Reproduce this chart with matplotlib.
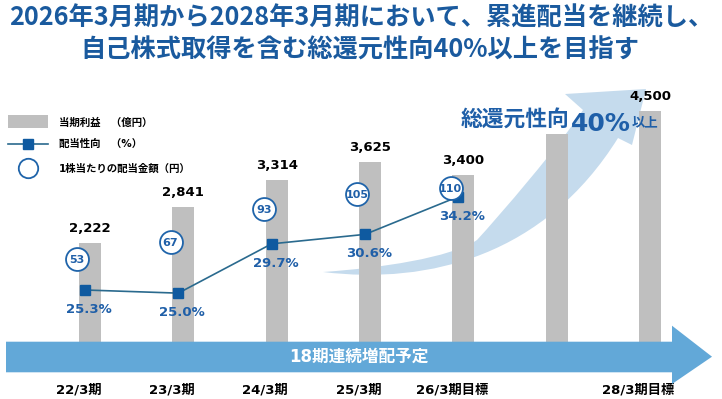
import matplotlib
matplotlib.use('Agg')
import matplotlib.pyplot as plt
from matplotlib.path import Path
from matplotlib.patches import PathPatch, Polygon, Rectangle
from matplotlib.lines import Line2D
import matplotlib.transforms as mtransforms

plt.rcParams['font.family'] = ['DejaVu Sans', 'Noto Sans CJK JP']

# ---------------- data ----------------
categories = ['22/3期', '23/3期', '24/3期', '25/3期', '26/3期目標', '', '28/3期目標']
profit = [2222, 2841, 3314, 3625, 3400, 4100, 4500]          # 当期利益（億円）; 27/3 estimated
profit_labels = ['2,222', '2,841', '3,314', '3,625', '3,400', '', '4,500']
payout = [25.3, 25.0, 29.7, 30.6, 34.2]                       # 配当性向（%）
payout_labels = ['25.3%', '25.0%', '29.7%', '30.6%', '34.2%']
dividend = [53, 67, 93, 105, 110]                             # 1株当たりの配当金額（円）

title_lines = ['2026年3月期から2028年3月期において、累進配当を継続し、',
               '自己株式取得を含む総還元性向40%以上を目指す']
legend_labels = ['当期利益　（億円）', '配当性向　（%）', '1株当たりの配当金額（円）']
arrow_text = '18期連続増配予定'
target_text = ['総還元性向', '40%', '以上']

# ---------------- style ----------------
BLUE_TITLE = '#1A5A9E'
BLUE_TXT = '#1F5FA8'
BLUE_MARK = '#0F5AA0'
LINE_C = '#2A6A8E'
CIRC_C = '#1F64AA'
BAR_C = '#BFBFBF'
ARROW_C = '#62A8D8'
BAND_C = '#C5DBED'

W, H = 722, 399
fig = plt.figure(figsize=(7.22, 3.99), dpi=100)


def overlay(z):
    a = fig.add_axes([0, 0, 1, 1], zorder=z)
    a.set_xlim(0, W)
    a.set_ylim(H, 0)
    a.axis('off')
    return a


# background: curved arrow
ax_bg = overlay(1)
verts = [(323, 272),
         (430, 285), (545, 255), (618, 138),
         (632, 145), (646, 89), (565, 94), (583, 110),
         (560, 145), (500, 215), (477, 240),
         (450, 258), (380, 268), (323, 272),
         (323, 272)]
codes = [Path.MOVETO,
         Path.CURVE4, Path.CURVE4, Path.CURVE4,
         Path.LINETO, Path.LINETO, Path.LINETO, Path.LINETO,
         Path.CURVE4, Path.CURVE4, Path.CURVE4,
         Path.CURVE4, Path.CURVE4, Path.CURVE4,
         Path.CLOSEPOLY]
ax_bg.add_patch(PathPatch(Path(verts, codes), facecolor=BAND_C, edgecolor='none'))

# bars
ax = fig.add_axes([0, 0, 1, 1], zorder=2)
ax.set_xlim(-0.964, 6.771)
ax.set_ylim(-462, 6417)
ax.axis('off')
x = list(range(len(profit)))
ax.bar(x, profit, width=0.2325, color=BAR_C, zorder=1)
for xi, v, lbl in zip(x, profit, profit_labels):
    if lbl:
        ax.annotate(lbl, (xi, v), xytext=(0, 8), textcoords='offset pixels',
                    ha='center', va='bottom', fontsize=9.5, fontweight='bold', color='black')
for xi, c in zip(x, categories):
    if c:
        ax.annotate(c, (xi, 1 - 390 / H), xycoords=('data', 'axes fraction'),
                    xytext=(-11.5, 0), textcoords='offset pixels',
                    ha='center', va='center', fontsize=9.5, fontweight='bold', color='black')

# foreground decorations
ax_fg = overlay(3)
ax_fg.add_patch(Polygon([(6, 341.7), (672, 341.7), (672, 325.7), (712, 356.7),
                         (672, 384), (672, 372.3), (6, 372.3)],
                        closed=True, facecolor=ARROW_C, edgecolor='none'))
ax_fg.text(359, 357, arrow_text, ha='center', va='center', fontsize=12,
           fontweight='bold', color='white')

ax_fg.text(361.5, 18, title_lines[0], ha='center', va='center', fontsize=18.2,
           fontweight='bold', color=BLUE_TITLE, family='Noto Sans CJK JP')
ax_fg.text(360, 50, title_lines[1], ha='center', va='center', fontsize=18.2,
           fontweight='bold', color=BLUE_TITLE, family='Noto Sans CJK JP')

# legend
ax_fg.add_patch(Rectangle((8, 115), 40, 13.3, facecolor=BAR_C, edgecolor='none'))
ax_fg.add_line(Line2D([8, 48], [144, 144], color=LINE_C, lw=1.2))
ax_fg.add_line(Line2D([28], [144], marker='s', ms=7, color=BLUE_MARK, mec=BLUE_MARK))
ax_fg.add_line(Line2D([28], [168.3], marker='o', ms=14, mfc='white', mec=CIRC_C, mew=1.3))
for yy, lbl in zip([123, 144, 168.3], legend_labels):
    ax_fg.text(59, yy, lbl, ha='left', va='center', fontsize=7.5, fontweight='bold',
               color='black')

# target text
t1 = ax_fg.text(461, 126, target_text[0], ha='left', va='baseline', fontsize=15.7,
                fontweight='bold', color=BLUE_TXT, family='Noto Sans CJK JP')
ax_fg.annotate(target_text[1], xy=(1, 0), xycoords=t1, xytext=(1, 0),
               textcoords='offset pixels', ha='left', va='baseline',
               fontsize=18, fontweight='bold', color=BLUE_TXT, family='DejaVu Sans')
ax_fg.text(632, 126, target_text[2], ha='left', va='baseline', fontsize=9.6,
           fontweight='bold', color=BLUE_TXT, family='Noto Sans CJK JP')

# payout line
ax_pay = ax.twinx()
ax_pay.set_zorder(4)
ax_pay.set_ylim(14.91, 52.94)
ax_pay.axis('off')
tr_line = mtransforms.offset_copy(ax_pay.transData, fig=fig, x=-5, y=0, units='dots')
xp = list(range(len(payout)))
ax_pay.plot(xp, payout, color=LINE_C, lw=1.2, marker='s', ms=7.5,
            mfc=BLUE_MARK, mec=BLUE_MARK, transform=tr_line)
for xi, p, lbl in zip(xp, payout, payout_labels):
    ax_pay.annotate(lbl, (xi, p), xytext=(-1, -19.5), textcoords='offset pixels',
                    ha='center', va='center', fontsize=9.5, fontweight='bold', color=BLUE_TXT)

# dividend circles
ax_div = ax.twinx()
ax_div.set_zorder(5)
ax_div.set_ylim(-59.9, 261.7)
ax_div.axis('off')
tr_div = mtransforms.offset_copy(ax_div.transData, fig=fig, x=-12.8, y=0, units='dots')
ax_div.plot(xp, dividend, linestyle='none', marker='o', ms=16.5, mfc='white',
            mec=CIRC_C, mew=1.3, transform=tr_div)
for xi, d in zip(xp, dividend):
    ax_div.annotate(str(d), (xi, d), xytext=(-12.8, 0), textcoords='offset pixels',
                    ha='center', va='center_baseline', fontsize=8, fontweight='bold',
                    color=BLUE_TXT)

fig.savefig('out.png', dpi=100)
